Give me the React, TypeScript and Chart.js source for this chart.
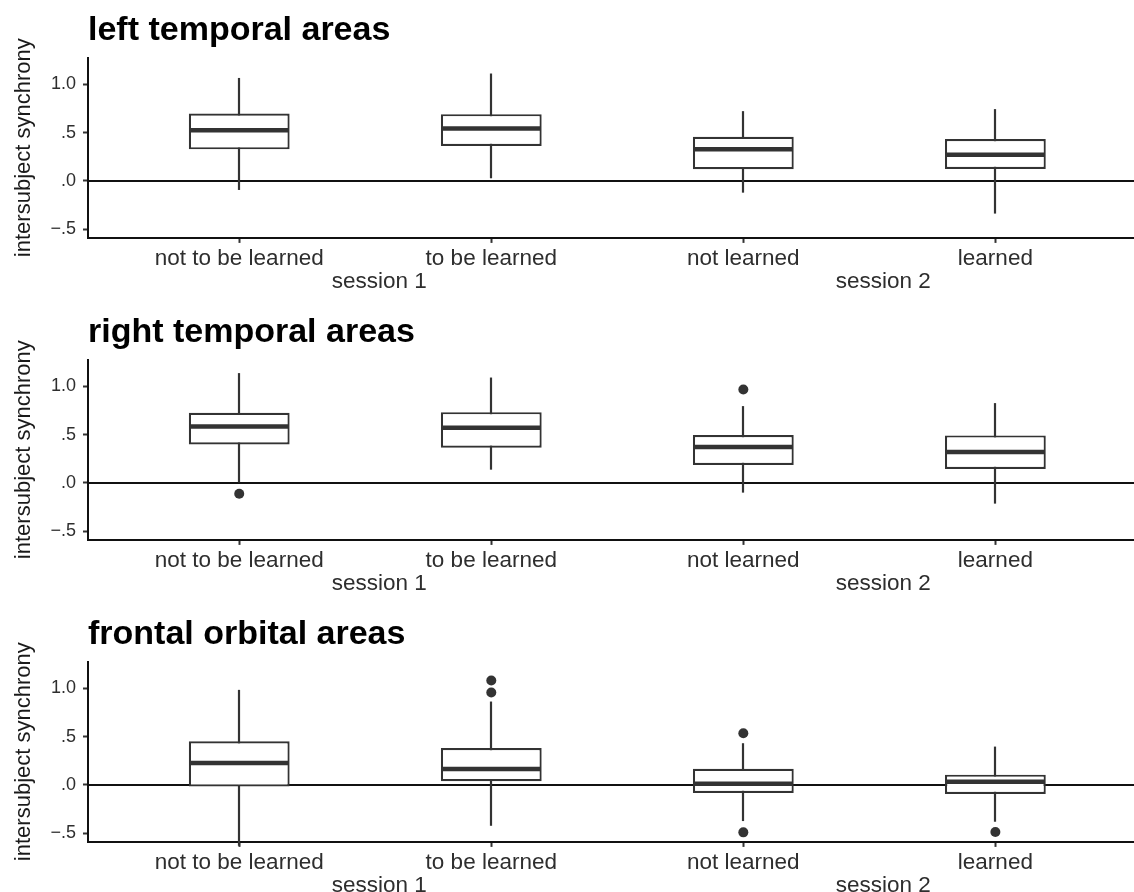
import React, { useEffect, useRef } from "react";
import { Chart, registerables } from "chart.js";

Chart.register(...registerables);

// ---------- data ----------
const categories = ["not to be learned", "to be learned", "not learned", "learned"];
const sessions = ["session 1", "session 2"];
const yTickValues = [-0.5, 0, 0.5, 1.0];
const yTickLabels = ["\u2212.5", ".0", ".5", "1.0"];
const yTitle = "intersubject synchrony";
const yMin = -0.59;
const yMax = 1.28;

// left temporal areas
const leftTitle = "left temporal areas";
const leftLow = [-0.093, 0.028, -0.121, -0.338];
const leftQ1 = [0.328, 0.362, 0.121, 0.124];
const leftMedian = [0.527, 0.545, 0.328, 0.272];
const leftQ3 = [0.7, 0.693, 0.458, 0.434];
const leftHigh = [1.068, 1.114, 0.724, 0.745];
const leftOutliers: number[][] = [[], [], [], []];

// right temporal areas
const rightTitle = "right temporal areas";
const rightLow = [0.006, 0.138, -0.1, -0.214];
const rightQ1 = [0.4, 0.365, 0.186, 0.145];
const rightMedian = [0.586, 0.572, 0.373, 0.321];
const rightQ3 = [0.728, 0.734, 0.497, 0.493];
const rightHigh = [1.139, 1.093, 0.797, 0.828];
const rightOutliers: number[][] = [[-0.111], [], [0.969], []];

// frontal orbital areas
const frontalTitle = "frontal orbital areas";
const frontalLow = [-0.63, -0.423, -0.374, -0.381];
const frontalQ1 = [-0.017, 0.038, -0.083, -0.094];
const frontalMedian = [0.228, 0.166, 0.014, 0.034];
const frontalQ3 = [0.454, 0.384, 0.169, 0.107];
const frontalHigh = [0.986, 0.865, 0.433, 0.398];
const frontalOutliers: number[][] = [[], [1.083, 0.958], [0.537, -0.491], [-0.488]];

// ---------- style ----------
const FONT = "'Liberation Sans', Arial, Helvetica, sans-serif";
const W = 1134;
const PLOT_TOP = 57.5;
const PLOT_H = 180.4;
const AXIS_W = 88;
const BOX_COLOR = "#333333";
const TEXT_COLOR = "#2e2e2e";

type PanelData = {
  title: string;
  low: number[];
  q1: number[];
  median: number[];
  q3: number[];
  high: number[];
  outliers: number[][];
};

const panels: PanelData[] = [
  { title: leftTitle, low: leftLow, q1: leftQ1, median: leftMedian, q3: leftQ3, high: leftHigh, outliers: leftOutliers },
  { title: rightTitle, low: rightLow, q1: rightQ1, median: rightMedian, q3: rightQ3, high: rightHigh, outliers: rightOutliers },
  { title: frontalTitle, low: frontalLow, q1: frontalQ1, median: frontalMedian, q3: frontalQ3, high: frontalHigh, outliers: frontalOutliers },
];
const panelHeights = [302, 302, 288];

function makePlugin(p: PanelData) {
  return {
    id: "boxExtras",
    beforeDatasetsDraw(chart: any) {
      const { ctx, chartArea, scales } = chart;
      const x = scales.x;
      const y = scales.y;
      ctx.save();
      // zero reference line
      const y0 = y.getPixelForValue(0);
      ctx.strokeStyle = "#111111";
      ctx.lineWidth = 2;
      ctx.beginPath();
      ctx.moveTo(chartArea.left, y0);
      ctx.lineTo(chartArea.right, y0);
      ctx.stroke();
      // whiskers
      ctx.strokeStyle = BOX_COLOR;
      ctx.lineWidth = 2.2;
      p.low.forEach((lo, i) => {
        const px = Math.round(x.getPixelForValue(i + 1));
        ctx.beginPath();
        ctx.moveTo(px, y.getPixelForValue(lo));
        ctx.lineTo(px, y.getPixelForValue(p.high[i]));
        ctx.stroke();
      });
      ctx.restore();
    },
    afterDatasetsDraw(chart: any) {
      const { ctx, scales } = chart;
      const y = scales.y;
      const meta = chart.getDatasetMeta(0);
      ctx.save();
      ctx.strokeStyle = BOX_COLOR;
      ctx.lineWidth = 4.5;
      p.median.forEach((m, i) => {
        const el = meta.data[i];
        const half = el.width / 2;
        const py = y.getPixelForValue(m);
        ctx.beginPath();
        ctx.moveTo(el.x - half + 1, py);
        ctx.lineTo(el.x + half - 1, py);
        ctx.stroke();
      });
      ctx.restore();
    },
    afterDraw(chart: any) {
      const { ctx, chartArea, scales } = chart;
      const x = scales.x;
      ctx.save();
      // panel title
      ctx.fillStyle = "#000000";
      ctx.font = `bold 34px ${FONT}`;
      ctx.textAlign = "left";
      ctx.textBaseline = "alphabetic";
      ctx.fillText(p.title, chartArea.left, chartArea.top - 17.5);
      // session labels
      ctx.fillStyle = TEXT_COLOR;
      ctx.font = `22.5px ${FONT}`;
      ctx.textAlign = "center";
      sessions.forEach((s, k) => {
        const mid = (x.getPixelForValue(1 + 2 * k) + x.getPixelForValue(2 + 2 * k)) / 2;
        ctx.fillText(s, mid + 14, chartArea.bottom + 50);
      });
      ctx.restore();
    },
  };
}

function Panel({ data, height }: { data: PanelData; height: number }) {
  const ref = useRef<HTMLCanvasElement | null>(null);
  useEffect(() => {
    if (!ref.current) return;
    const xAxisHeight = height - PLOT_TOP - PLOT_H;
    const boxData = categories.map((_, i) => ({ x: i + 1, y: [data.q1[i], data.q3[i]] }));
    const outlierData = data.outliers.flatMap((vals, i) => vals.map((v) => ({ x: i + 1, y: v })));
    const chart = new Chart(ref.current, {
      type: "bar",
      data: {
        datasets: [
          {
            type: "bar",
            data: boxData as any,
            backgroundColor: "#ffffff",
            borderColor: BOX_COLOR,
            borderWidth: 2.2,
            borderSkipped: false,
            barPercentage: 0.4,
            categoryPercentage: 1,
            order: 2,
          } as any,
          {
            type: "scatter",
            data: outlierData as any,
            pointRadius: 5,
            pointBackgroundColor: BOX_COLOR,
            pointBorderWidth: 0,
            backgroundColor: BOX_COLOR,
            borderColor: BOX_COLOR,
            clip: false,
            order: 1,
          } as any,
        ],
      },
      options: {
        animation: false,
        responsive: false,
        events: [],
        layout: { autoPadding: false, padding: { top: PLOT_TOP, left: 0, right: 0, bottom: 0 } },
        plugins: {
          legend: { display: false },
          tooltip: { enabled: false },
          title: { display: false },
        },
        scales: {
          x: {
            type: "linear",
            min: 0.4,
            max: 4.55,
            offset: false,
            afterBuildTicks: (s: any) => {
              s.ticks = categories.map((_, i) => ({ value: i + 1 }));
            },
            afterFit: (s: any) => {
              s.height = xAxisHeight;
            },
            ticks: {
              autoSkip: false,
              maxRotation: 0,
              minRotation: 0,
              padding: 2,
              color: TEXT_COLOR,
              font: { family: FONT, size: 22.5 },
              callback: (_v: any, i: number) => categories[i],
            },
            grid: {
              display: true,
              offset: false,
              drawOnChartArea: false,
              drawTicks: true,
              tickLength: 5,
              tickWidth: 2,
              tickColor: BOX_COLOR,
            },
            border: { display: true, color: "#111111", width: 2 },
          } as any,
          y: {
            type: "linear",
            min: yMin,
            max: yMax,
            afterBuildTicks: (s: any) => {
              s.ticks = yTickValues.map((v) => ({ value: v }));
            },
            afterFit: (s: any) => {
              s.width = AXIS_W;
            },
            ticks: {
              padding: 7,
              color: TEXT_COLOR,
              font: { family: FONT, size: 18 },
              callback: (_v: any, i: number) => yTickLabels[i],
            },
            grid: {
              display: true,
              drawOnChartArea: false,
              drawTicks: true,
              tickLength: 5,
              tickWidth: 2,
              tickColor: BOX_COLOR,
            },
            border: { display: true, color: "#111111", width: 2 },
            title: {
              display: true,
              text: yTitle,
              color: "#1a1a1a",
              font: { family: FONT, size: 22 },
              padding: { top: 11, bottom: 0 },
            },
          } as any,
        },
      },
      plugins: [makePlugin(data)],
    } as any);
    return () => chart.destroy();
  }, [data, height]);
  return (
    <canvas
      ref={ref}
      width={W}
      height={height}
      style={{ display: "block", width: W, height }}
    />
  );
}

export default function App() {
  return (
    <div
      style={{
        position: "fixed",
        left: 0,
        top: 0,
        width: W,
        height: 892,
        background: "#ffffff",
        overflow: "hidden",
      }}
    >
      {panels.map((p, i) => (
        <Panel key={p.title} data={p} height={panelHeights[i]} />
      ))}
    </div>
  );
}
